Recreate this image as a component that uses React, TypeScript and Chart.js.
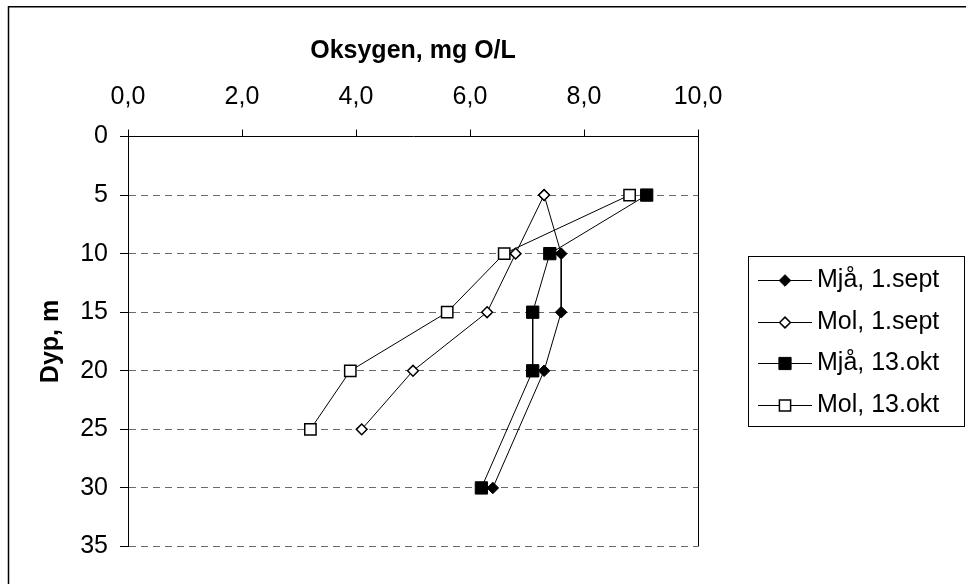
import React, { useEffect, useRef } from 'react';
import { Chart, registerables } from 'chart.js';

Chart.register(...registerables);

const seriesLabels = ['Mjå, 1.sept', 'Mol, 1.sept', 'Mjå, 13.okt', 'Mol, 13.okt'];
const depthsMja = [5, 10, 15, 20, 30];
const depthsMol = [5, 10, 15, 20, 25];
const oxyMja1Sept = [7.3, 7.6, 7.6, 7.3, 6.4];
const oxyMol1Sept = [7.3, 6.8, 6.3, 5.0, 4.1];
const oxyMja13Okt = [9.1, 7.4, 7.1, 7.1, 6.2];
const oxyMol13Okt = [8.8, 6.6, 5.6, 3.9, 3.2];
const xTickValues = [0, 2, 4, 6, 8, 10];
const xTickLabels = ['0,0', '2,0', '4,0', '6,0', '8,0', '10,0'];
const yTickValues = [0, 5, 10, 15, 20, 25, 30, 35];
const yTickLabels = ['0', '5', '10', '15', '20', '25', '30', '35'];
const xTitle = 'Oksygen, mg O/L';
const yTitle = 'Dyp, m';

const FONT = '"Liberation Sans", Arial, sans-serif';

type MarkerKind = 'diamond' | 'square';
const markerKinds: MarkerKind[] = ['diamond', 'diamond', 'square', 'square'];
const markerFilled = [true, false, true, false];

function toPoints(xs: number[], ys: number[]) {
  return xs.map((x, i) => ({ x, y: ys[i] }));
}

function labelFor(values: number[], labels: string[], v: number) {
  const idx = values.findIndex((t) => Math.abs(t - v) < 1e-6);
  return idx >= 0 ? labels[idx] : '';
}

function drawMarker(ctx: CanvasRenderingContext2D, kind: MarkerKind, filled: boolean, x: number, y: number) {
  ctx.save();
  ctx.beginPath();
  if (kind === 'diamond') {
    const r = filled ? 5.8 : 5.4;
    ctx.moveTo(x - r, y);
    ctx.lineTo(x, y - r);
    ctx.lineTo(x + r, y);
    ctx.lineTo(x, y + r);
    ctx.closePath();
  } else {
    const h = filled ? 6.1 : 5.6;
    ctx.rect(x - h, y - h, 2 * h, 2 * h);
  }
  ctx.fillStyle = filled ? '#000' : '#fff';
  ctx.fill();
  ctx.lineWidth = filled ? 1 : 1.5;
  ctx.strokeStyle = '#000';
  ctx.stroke();
  ctx.restore();
}

const framePlugin = {
  id: 'frameAndLegend',
  afterDraw(chart: any) {
    const ctx: CanvasRenderingContext2D = chart.ctx;
    ctx.save();
    // outer frame
    ctx.lineWidth = 1.5;
    ctx.strokeStyle = '#000';
    ctx.beginPath();
    ctx.moveTo(8.5, 2000);
    ctx.lineTo(8.5, 6.8);
    ctx.lineTo(2000, 6.8);
    ctx.stroke();

    // legend box
    ctx.lineWidth = 1;
    ctx.strokeRect(748.5, 256.5, 216, 170);
    ctx.font = `25px ${FONT}`;
    ctx.textBaseline = 'middle';
    ctx.textAlign = 'left';
    ctx.fillStyle = '#000';
    chart.data.datasets.forEach((ds: any, i: number) => {
      const y = 280 + i * 41.7;
      ctx.beginPath();
      ctx.lineWidth = 1;
      ctx.moveTo(758, Math.round(y) + 0.5);
      ctx.lineTo(812, Math.round(y) + 0.5);
      ctx.stroke();
      drawMarker(ctx, markerKinds[i], markerFilled[i], 785, Math.round(y) + 0.5);
      ctx.fillText(ds.label, 817, y);
    });
    ctx.restore();
  },
};

export default function App() {
  const canvasRef = useRef<HTMLCanvasElement | null>(null);

  useEffect(() => {
    const canvas = canvasRef.current;
    if (!canvas) return;
    Chart.defaults.font.family = FONT;
    Chart.defaults.color = '#000';

    const series = [
      toPoints(oxyMja1Sept, depthsMja),
      toPoints(oxyMol1Sept, depthsMol),
      toPoints(oxyMja13Okt, depthsMja),
      toPoints(oxyMol13Okt, depthsMol),
    ];

    const datasets = series.map((data, i) => {
      const isDiamond = markerKinds[i] === 'diamond';
      const filled = markerFilled[i];
      return {
        label: seriesLabels[i],
        data,
        showLine: true,
        borderColor: '#000',
        borderWidth: 1,
        pointStyle: isDiamond ? 'rectRot' : 'rect',
        pointRadius: isDiamond ? (filled ? 5.8 : 5.4) : filled ? 8.7 : 8,
        pointBackgroundColor: filled ? '#000' : '#fff',
        pointBorderColor: '#000',
        pointBorderWidth: filled ? 1 : 1.5,
        order: 4 - i,
      };
    });

    const chart = new Chart(canvas, {
      type: 'scatter',
      data: { datasets },
      plugins: [framePlugin],
      options: {
        responsive: false,
        animation: false,
        events: [],
        layout: { padding: { left: 0, top: 0, right: 268, bottom: 37.5 } },
        plugins: {
          legend: { display: false },
          tooltip: { enabled: false },
        },
        scales: {
          x: {
            type: 'linear',
            position: 'top',
            min: 0,
            max: 10,
            ticks: {
              stepSize: 2,
              padding: 17,
              font: { size: 25 },
              color: '#000',
              callback: (v: any) => labelFor(xTickValues, xTickLabels, Number(v)),
            },
            grid: {
              color: (c: any) => (c.tick && c.tick.value === 10 ? '#000' : 'rgba(0,0,0,0)'),
              lineWidth: 1,
              tickColor: '#000',
              tickLength: 7,
              drawOnChartArea: true,
            },
            border: { display: true, color: '#000', width: 1 },
            title: {
              display: true,
              text: xTitle,
              font: { size: 25, weight: 'bold' },
              color: '#000',
              padding: { top: 36, bottom: 0 },
            },
            afterFit: (scale: any) => {
              scale.height = 136.5;
            },
          },
          y: {
            type: 'linear',
            reverse: true,
            min: 0,
            max: 35,
            ticks: {
              stepSize: 5,
              padding: 12,
              font: { size: 25 },
              color: '#000',
              callback: (v: any) => labelFor(yTickValues, yTickLabels, Number(v)),
            },
            grid: {
              color: (c: any) => (c.tick && c.tick.value === 0 ? 'rgba(0,0,0,0)' : '#6a6a6a'),
              lineWidth: 1,
              tickColor: '#000',
              tickLength: 8,
              tickBorderDash: [],
            },
            border: { display: true, color: '#000', width: 1, dash: [7, 5] },
            title: {
              display: true,
              text: yTitle,
              font: { size: 25, weight: 'bold' },
              color: '#000',
              padding: { top: 36, bottom: 0 },
            },
            afterFit: (scale: any) => {
              scale.width = 128;
            },
          },
        },
      },
    } as any);

    return () => {
      chart.destroy();
    };
  }, []);

  return (
    <div style={{ position: 'absolute', left: 0, top: 0, width: 966, height: 584, background: '#fff' }}>
      <canvas ref={canvasRef} width={966} height={584} style={{ display: 'block' }} />
    </div>
  );
}
